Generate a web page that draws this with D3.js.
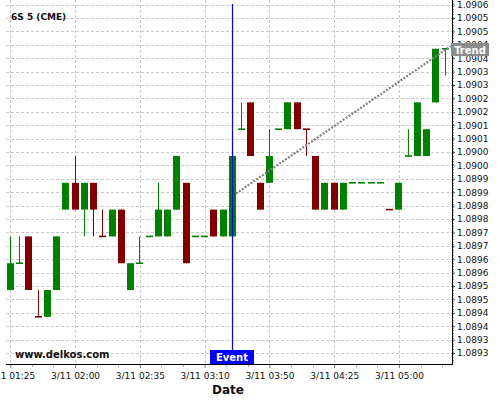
<!DOCTYPE html>
<html><head><meta charset="utf-8">
<script src="https://cdn.jsdelivr.net/npm/d3@7/dist/d3.min.js"></script>
<style>body{margin:0;background:#fff}svg{display:block;font-family:"DejaVu Sans",sans-serif}</style>
</head><body><svg id="c" width="500" height="400"></svg>
<script>
// ---- data ----
const opens  = [1.0895,1.0896,1.0897,1.0894,1.0894,1.0895,1.0898,1.0899,1.0898,1.0899,1.0897,1.0897,1.0898,1.0895,1.0896,1.0897,
                1.0897,1.0897,1.0898,1.0899,1.0897,1.0897,1.0898,1.0897,1.0897,1.0901,1.0902,1.0899,1.0899,1.0901,1.0901,1.0902,
                1.0901,1.0900,1.0898,1.0899,1.0898,1.0899,1.0899,1.0899,1.0899,1.0898,1.0898,1.0900,1.0900,1.0900,1.0902,1.0904];
const highs  = [1.0897,1.0897,1.0897,1.0895,1.0895,1.0897,1.0899,1.0900,1.0899,1.0899,1.0898,1.0898,1.0898,1.0896,1.0897,1.0897,
                1.0899,1.0898,1.0900,1.0899,1.0897,1.0897,1.0898,1.0898,1.0900,1.0902,1.0902,1.0899,1.0901,1.0901,1.0902,1.0902,
                1.0901,1.0900,1.0899,1.0899,1.0899,1.0899,1.0899,1.0899,1.0899,1.0898,1.0899,1.0901,1.0902,1.0901,1.0904,1.0904];
const lows   = [1.0895,1.0896,1.0895,1.0894,1.0894,1.0895,1.0898,1.0898,1.0897,1.0897,1.0897,1.0897,1.0896,1.0895,1.0896,1.0897,
                1.0897,1.0897,1.0898,1.0896,1.0897,1.0897,1.0897,1.0897,1.0897,1.0901,1.0900,1.0898,1.0899,1.0901,1.0901,1.0901,
                1.0900,1.0898,1.0898,1.0898,1.0898,1.0899,1.0899,1.0899,1.0899,1.0898,1.0898,1.0900,1.0900,1.0900,1.0902,1.0903];
const closes = [1.0896,1.0896,1.0895,1.0894,1.0895,1.0897,1.0899,1.0898,1.0899,1.0898,1.0897,1.0898,1.0896,1.0896,1.0896,1.0897,
                1.0898,1.0898,1.0900,1.0896,1.0897,1.0897,1.0897,1.0898,1.0900,1.0901,1.0900,1.0898,1.0900,1.0901,1.0902,1.0901,
                1.0901,1.0898,1.0899,1.0898,1.0899,1.0899,1.0899,1.0899,1.0899,1.0898,1.0899,1.0900,1.0902,1.0901,1.0904,1.0904];
const directions = ["u","u","d","d","u","u","u","d","u","d","d","u","d","u","u","u",
                    "u","u","u","d","u","u","d","u","u","u","d","d","u","u","u","d",
                    "d","d","u","d","u","u","u","u","u","d","u","u","u","u","u","u"];
const xTickIndex  = [0,7,14,21,28,35,42];
const xTickLabels = ["3/11 01:25","3/11 02:00","3/11 02:35","3/11 03:10","3/11 03:50","3/11 04:25","3/11 05:00"];
const yTickValues = [1.089265,1.089315,1.089365,1.089415,1.089465,1.089515,1.089565,1.089615,1.089665,1.089715,
                     1.089765,1.089815,1.089865,1.089915,1.089965,1.090015,1.090065,1.090115,1.090165,1.090215,
                     1.090265,1.090315,1.090365,1.090415,1.090465,1.090515,1.090565];
const yTickLabels = ["1.0893","1.0893","1.0894","1.0894","1.0895","1.0895","1.0896","1.0896","1.0897","1.0897",
                     "1.0898","1.0898","1.0899","1.0899","1.0900","1.0900","1.0901","1.0901","1.0902","1.0902",
                     "1.0903","1.0903","1.0904","1.0904","1.0905","1.0905","1.0906"];
const eventIndex = 24;
const trendIndex = [24.4, 47.6];
const trendValue = [1.08986, 1.09041];
const titleText = "6S 5 (CME)";

// ---- layout ----
const L = 6, R = 452, T = 0, B = 364;
const svg = d3.select("#c");
const n = opens.length;
const x = d3.scaleLinear().domain([0, n - 1]).range([10.3, 445.2]);
const y = d3.scaleLinear().domain([1.089224, 1.090582]).range([B, T]);
const up = "#008000", dn = "#800000";

// grid
const grid = svg.append("g").attr("stroke", "#c8c8c8").attr("stroke-dasharray", "3,2").attr("stroke-width", 1);
grid.selectAll(".h").data(yTickValues).join("line")
  .attr("x1", L).attr("x2", R)
  .attr("y1", d => Math.round(y(d)) + 0.5).attr("y2", d => Math.round(y(d)) + 0.5);
grid.selectAll(".v").data(xTickIndex).join("line")
  .attr("y1", T).attr("y2", B)
  .attr("x1", d => Math.round(x(d)) + 0.5).attr("x2", d => Math.round(x(d)) + 0.5);

// candles
const cg = svg.append("g");
const idx = d3.range(n);
const colorOf = i => directions[i] === "u" ? up : dn;
const leftOf = i => Math.round(x(i) - 3.5);
cg.selectAll(".wick").data(idx).join("line")
  .attr("x1", i => leftOf(i) + 3.5).attr("x2", i => leftOf(i) + 3.5)
  .attr("y1", i => y(highs[i])).attr("y2", i => y(lows[i]))
  .attr("stroke", colorOf).attr("stroke-width", 1);
cg.selectAll(".body").data(idx.filter(i => opens[i] !== closes[i])).join("rect")
  .attr("x", leftOf).attr("width", 7)
  .attr("y", i => y(Math.max(opens[i], closes[i])))
  .attr("height", i => Math.abs(y(opens[i]) - y(closes[i])))
  .attr("fill", colorOf);
cg.selectAll(".doji").data(idx.filter(i => opens[i] === closes[i])).join("line")
  .attr("x1", leftOf).attr("x2", i => leftOf(i) + 7)
  .attr("y1", i => y(closes[i])).attr("y2", i => y(closes[i]))
  .attr("stroke", colorOf).attr("stroke-width", 1.6);

// trend line
svg.append("line")
  .attr("x1", x(trendIndex[0])).attr("y1", y(trendValue[0]))
  .attr("x2", x(trendIndex[1])).attr("y2", y(trendValue[1]))
  .attr("stroke", "#808080").attr("stroke-width", 2.2).attr("stroke-dasharray", "2,1.5");

// event line
const ex = Math.round(x(eventIndex)) + 0.5;
svg.append("line").attr("x1", ex).attr("x2", ex).attr("y1", 4).attr("y2", B)
  .attr("stroke", "#0000ff").attr("stroke-width", 1.2);

// axes
const yAxis = d3.axisRight(y).tickValues(yTickValues).tickFormat((d, i) => yTickLabels[i])
  .tickSize(3).tickSizeOuter(0).tickPadding(2);
const ya = svg.append("g").attr("transform", `translate(${R},0)`).call(yAxis);
ya.select(".domain").remove();
ya.selectAll("line").attr("stroke", "#555");
ya.selectAll("text").attr("font-size", 9).attr("font-family", "DejaVu Sans").attr("fill", "#111");
const minorY = d3.range(Math.ceil(y.domain()[0] * 1e5), Math.floor(y.domain()[1] * 1e5) + 1).map(v => v / 1e5);
svg.append("g").selectAll("line").data(minorY).join("line")
  .attr("x1", R).attr("x2", R + 2)
  .attr("y1", d => Math.round(y(d)) + 0.5).attr("y2", d => Math.round(y(d)) + 0.5)
  .attr("stroke", "#999");

const xAxis = d3.axisBottom(x).tickValues(xTickIndex).tickFormat((d, i) => xTickLabels[i])
  .tickSize(4).tickSizeOuter(0).tickPadding(4.7);
const xa = svg.append("g").attr("transform", `translate(0,${B})`).call(xAxis);
xa.select(".domain").remove();
xa.selectAll("line").attr("stroke", "#777");
xa.selectAll("text").attr("font-size", 9).attr("font-family", "DejaVu Sans").attr("fill", "#111");
const minorX = [];
xTickIndex.forEach(t => { minorX.push(t + 7 / 3, t + 14 / 3); });
svg.append("g").selectAll("line").data(minorX.filter(v => v <= n - 1)).join("line")
  .attr("x1", d => Math.round(x(d)) + 0.5).attr("x2", d => Math.round(x(d)) + 0.5)
  .attr("y1", B).attr("y2", B + 3).attr("stroke", "#aaa");

svg.append("line").attr("x1", R + 0.5).attr("x2", R + 0.5).attr("y1", 0).attr("y2", B + 0.5)
  .attr("stroke", "#000");
svg.append("line").attr("x1", L).attr("x2", R + 1).attr("y1", B + 0.5).attr("y2", B + 0.5)
  .attr("stroke", "#000");

// labels
svg.append("text").attr("x", 11).attr("y", 19.5).attr("font-size", 9).attr("font-weight", "bold")
  .attr("fill", "#111").text(titleText);
svg.append("text").attr("x", 15).attr("y", 357.5).attr("font-size", 10).attr("font-weight", "bold")
  .attr("fill", "#111").text("www.delkos.com");
svg.append("text").attr("x", 228).attr("y", 394).attr("font-size", 12).attr("font-weight", "bold")
  .attr("text-anchor", "middle").attr("fill", "#111").text("Date");

// event label
svg.append("rect").attr("x", ex - 22.5).attr("y", 350).attr("width", 44).attr("height", 14).attr("fill", "#0000ff");
svg.append("text").attr("x", ex - 0.5).attr("y", 361).attr("text-anchor", "middle").attr("font-size", 10)
  .attr("font-weight", "bold").attr("fill", "#fff").text("Event");

// trend label (covers the hidden tick label, as in the reference)
svg.append("rect").attr("x", 451).attr("y", 43).attr("width", 38).attr("height", 13).attr("fill", "#8c8c8c");
svg.append("text").attr("x", 470).attr("y", 53.5).attr("text-anchor", "middle").attr("font-size", 10)
  .attr("font-weight", "bold").attr("fill", "#fff").text("Trend");
</script></body></html>
